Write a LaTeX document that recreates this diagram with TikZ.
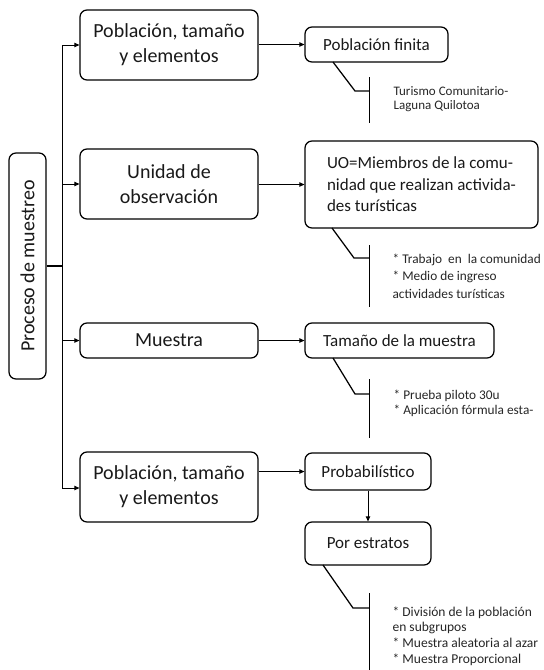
\documentclass[tikz,border=0pt]{standalone}
\usepackage{fontspec}
\setmainfont{Carlito}
\usetikzlibrary{arrows.meta,positioning}
\def\bigtxt{\fontsize{20}{25}\selectfont}
\def\midtxt{\fontsize{17}{21.5}\selectfont}
\def\smalltxt{\fontsize{13.3}{15.5}\selectfont}

\begin{document}
\begin{tikzpicture}[x=1pt,y=-1pt,line width=1.25pt,
    box/.style={draw,rounded corners=7pt,align=center,font=\bigtxt,inner sep=0pt,text=black!90},
    lbox/.style={box,align=left,font=\midtxt},
    arr/.style={-{Triangle[length=5pt,width=4.5pt]},line width=0.9pt},
    note/.style={anchor=west,align=left,text=black!85,inner sep=0pt}]
  \useasboundingbox (0,0) rectangle (544,670);
  % left column
  \node[box,rotate=90,minimum width=226,minimum height=37] (proc) at (27.5,266) {Proceso de muestreo};
  \node[box,minimum width=178,minimum height=70] (pob) at (169,45) {Población, tamaño\\y elementos};
  \node[box,minimum width=178,minimum height=70] (uni) at (169,184) {Unidad de\\observación};
  \node[box,minimum width=178,minimum height=35] (mue) at (169,340.5) {Muestra};
  \node[box,minimum width=178,minimum height=70] (tip) at (169,487) {Población, tamaño\\y elementos};
  % right column
  \node[lbox,minimum width=143,minimum height=35] (fin) at (376.5,44.5) {Población finita};
  \node[lbox,minimum width=233,minimum height=87] (uo) at (421.5,184.5) {UO=Miembros de la comu-\\nidad que realizan activida-\\des turísticas};
  \node[lbox,minimum width=189,minimum height=35] (tam) at (399.5,340.5) {Tamaño de la muestra};
  \node[lbox,minimum width=126,minimum height=37] (prob) at (368,471.5) {Probabilístico};
  \node[lbox,minimum width=126,minimum height=43] (est) at (368,543.5) {Por estratos};
  % trunk
  \coordinate (trunk) at (62,266);
  \draw (proc.south) -- (trunk);
  \draw[arr] (trunk) |- (pob.west);
  \draw[arr] (trunk) |- (uni.west);
  \draw[arr] (trunk) |- (mue.west);
  \draw[arr] (trunk) |- (tip.west |- 0,488);
  % links
  \draw[arr] (pob.east |- fin.west) -- (fin.west);
  \draw[arr] (uni.east |- uo.west) -- (uo.west);
  \draw[arr] (mue.east) -- (tam.west);
  \draw[arr] (tip.east |- prob.west) -- (prob.west);
  \draw[arr] (prob.south) -- (est.north);
  % notes
  \draw (333,62) -- (355,91) -- (369.5,91);
  \draw (369.5,77) -- (369.5,123);
  \node[note,font=\fontsize{13}{14.5}\selectfont] (n1) at (393,99) {Turismo Comunitario-\\Laguna Quilotoa};
  \draw (332,228) -- (354,258) -- (369.5,258);
  \draw (369.5,245) -- (369.5,307);
  \node[note,font=\fontsize{13.3}{17.5}\selectfont] (n2) at (392,276) {* Trabajo\ \ en\ \ la comunidad\\* Medio de ingreso\\actividades turísticas};
  \draw (333,358) -- (355,394) -- (369.5,394);
  \draw (369.5,379) -- (369.5,438);
  \node[note,font=\smalltxt] (n3) at (393,403.5) {* Prueba piloto 30u\\* Aplicación fórmula esta-};
  \draw (323,565) -- (353,608) -- (369.5,608);
  \draw (369.5,593) -- (369.5,670);
  \node[note,font=\fontsize{13.5}{15.7}\selectfont] (n4) at (392,636) {* División de la población\\en subgrupos\\* Muestra aleatoria al azar\\* Muestra Proporcional};
\end{tikzpicture}
\end{document}
